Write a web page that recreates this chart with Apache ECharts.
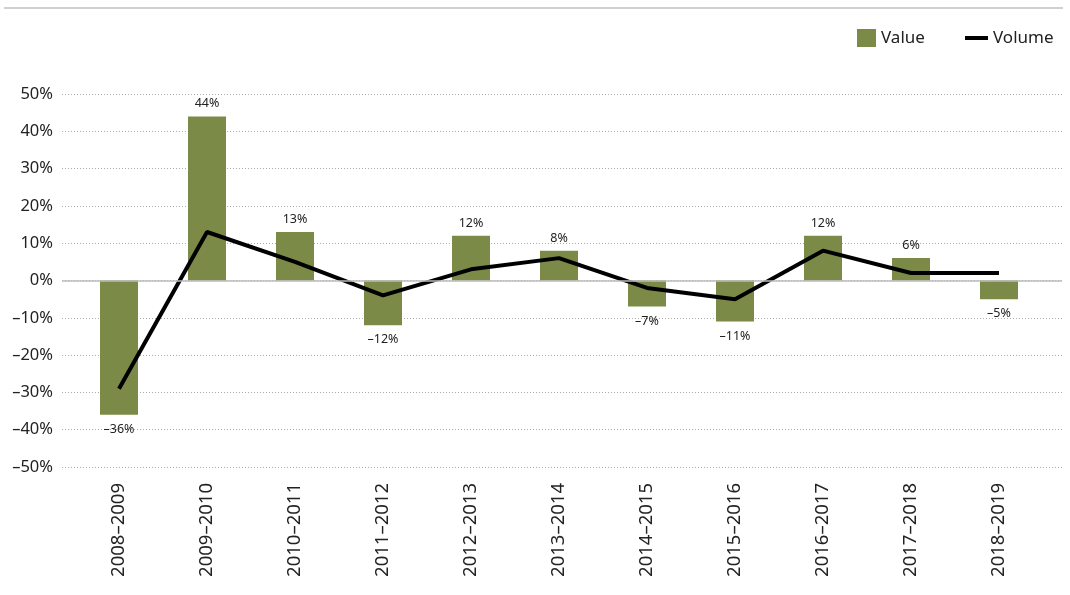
<!DOCTYPE html>
<html>
<head>
<meta charset="utf-8">
<script src="https://cdn.jsdelivr.net/npm/echarts@6/dist/echarts.min.js"></script>
<style>
  html, body { margin: 0; padding: 0; background: #fff; }
  #chart { width: 1070px; height: 595px; }
</style>
</head>
<body>
<div id="chart"></div>
<script>
const categories = ['2008–2009', '2009–2010', '2010–2011', '2011–2012', '2012–2013', '2013–2014',
  '2014–2015', '2015–2016', '2016–2017', '2017–2018', '2018–2019']
const valueSeries = [-36, 44, 13, -12, 12, 8, -7, -11, 12, 6, -5]
const volumeSeries = [-29, 13, 5, -4, 3, 6, -2, -5, 8, 2, 2]

const FONT = '"Noto Sans", sans-serif'
const fmt = v => (v < 0 ? '–' + Math.abs(v) : v) + '%'

const chart = echarts.init(document.getElementById('chart'))

chart.setOption({
  animation: false,
  textStyle: { fontFamily: FONT },
  graphic: [{
    type: 'line',
    shape: { x1: 4, y1: 8, x2: 1063, y2: 8 },
    style: { stroke: '#d0d0d0', lineWidth: 2 }
  }],
  legend: [
    {
      data: ['Value'], left: 857, top: 29, padding: 0,
      itemWidth: 19, itemHeight: 18,
      icon: 'rect',
      textStyle: { fontSize: 17, lineHeight: 18, color: '#222', fontFamily: FONT }
    },
    {
      data: ['Volume'], left: 965, top: 29, padding: 0,
      itemWidth: 23, itemHeight: 4,
      icon: 'rect',
      textStyle: { fontSize: 17, lineHeight: 18, color: '#222', fontFamily: FONT }
    }
  ],
  grid: [
    { left: 62, right: 8, top: 94, bottom: 128 },
    { left: 75, right: 27, top: 94, bottom: 128 }
  ],
  xAxis: [
    { gridIndex: 0, type: 'category', data: categories, show: false },
    {
      gridIndex: 1, type: 'category', data: categories,
      axisLine: { show: false }, axisTick: { show: false },
      axisLabel: { rotate: 90, margin: 16, fontSize: 18.5, color: '#222', fontFamily: FONT }
    }
  ],
  yAxis: [
    {
      gridIndex: 0, type: 'value', min: -50, max: 50, interval: 10,
      axisLine: { show: false }, axisTick: { show: false },
      axisLabel: { formatter: fmt, fontSize: 16.5, color: '#222', margin: 9, fontFamily: FONT },
      splitLine: { lineStyle: { color: '#aaa', type: [1, 2], width: 1 } }
    },
    {
      gridIndex: 1, type: 'value', min: -50, max: 50, interval: 10,
      axisLabel: { show: false }, splitLine: { show: false },
      axisLine: { show: false }, axisTick: { show: false }
    }
  ],
  series: [
    {
      // zero line across the wide grid
      type: 'line', xAxisIndex: 0, yAxisIndex: 0, data: [],
      silent: true,
      markLine: {
        silent: true, symbol: 'none', label: { show: false },
        lineStyle: { color: '#bbb', type: 'solid', width: 1.5 },
        data: [{ yAxis: 0 }]
      }
    },
    {
      name: 'Value', type: 'bar', xAxisIndex: 1, yAxisIndex: 1,
      barWidth: 38,
      itemStyle: { color: '#7b8b47' },
      data: valueSeries.map(v => ({
        value: v,
        label: { position: v < 0 ? 'bottom' : 'top', distance: v < 0 ? 8 : 6 }
      })),
      label: {
        show: true, fontSize: 12.5, color: '#222', fontFamily: FONT,
        formatter: p => fmt(p.value)
      },
      z: 2
    },
    {
      name: 'Volume', type: 'line', xAxisIndex: 1, yAxisIndex: 1,
      data: volumeSeries,
      showSymbol: false, symbol: 'none',
      itemStyle: { color: '#000' },
      lineStyle: { color: '#000', width: 4 },
      z: 3
    }
  ]
})
</script>
</body>
</html>
